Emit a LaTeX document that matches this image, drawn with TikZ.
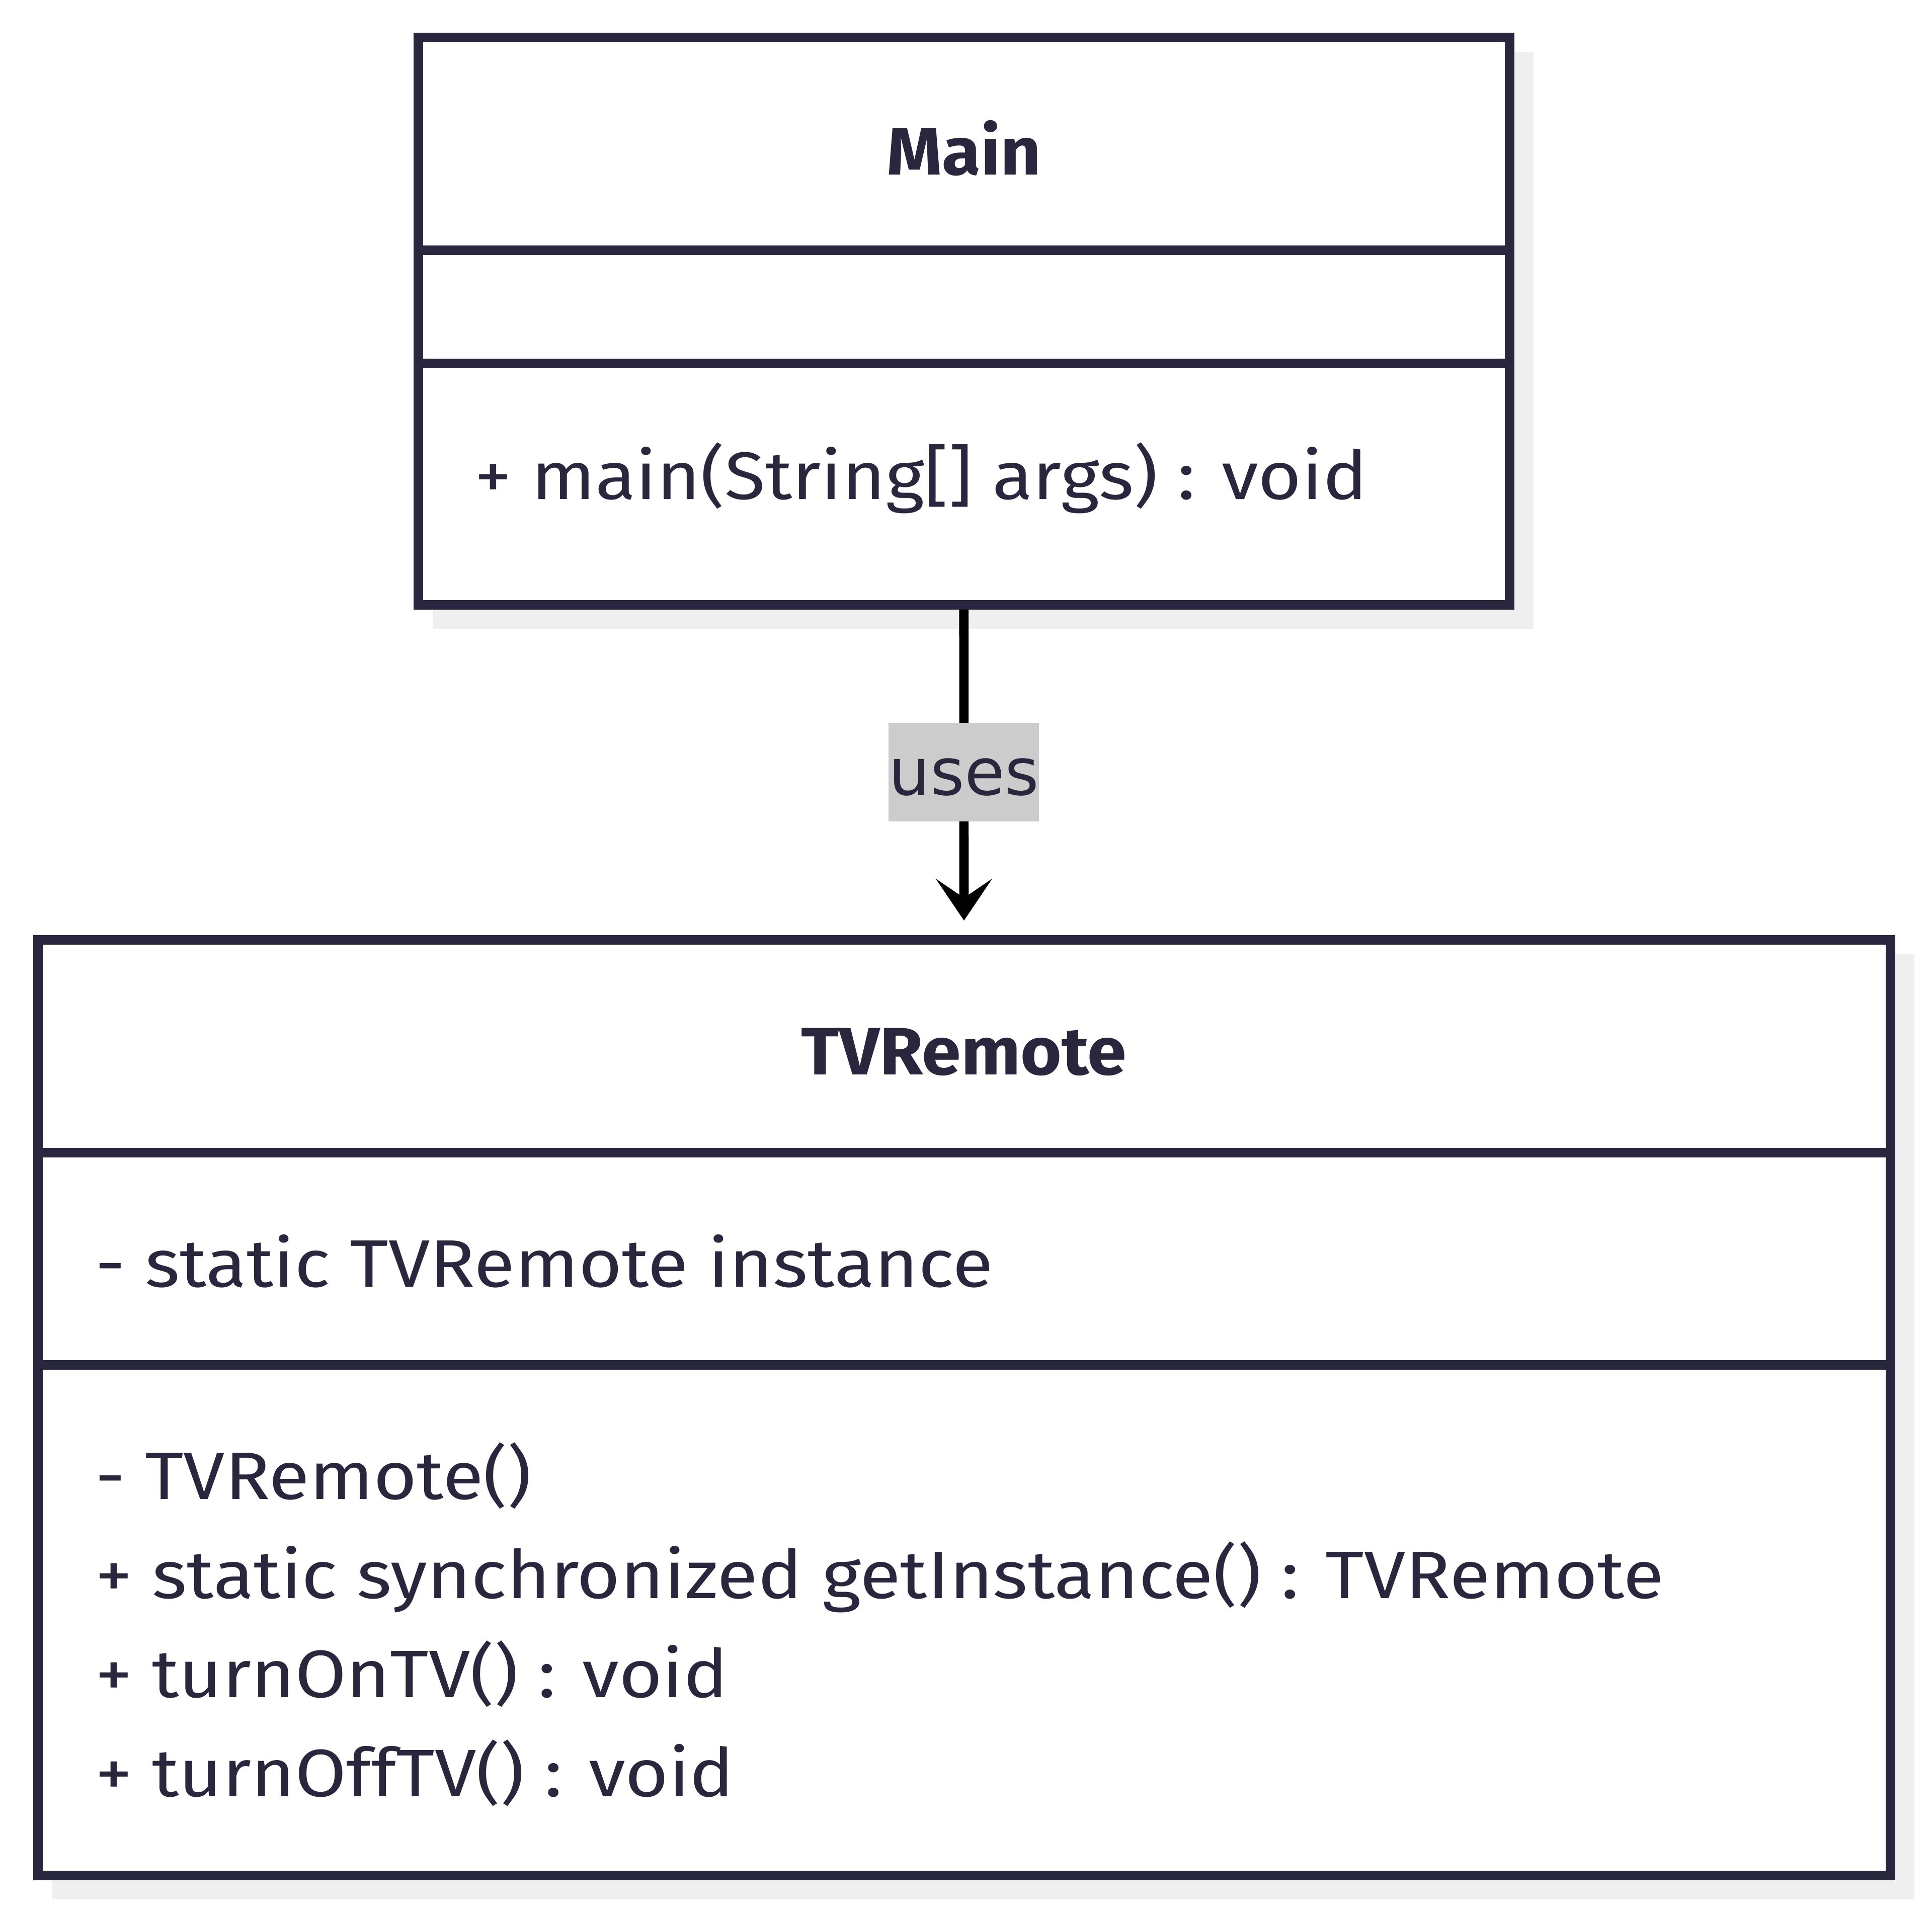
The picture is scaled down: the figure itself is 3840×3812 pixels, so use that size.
\documentclass[tikz,border=0pt]{standalone}
\usepackage{fontspec}
\setmainfont{Fira Sans}
\newfontfamily\bodyfont{Fira Sans}[FakeStretch=1.11]
\newfontfamily\titlefont{Fira Sans}[FakeStretch=1.05]
\newfontfamily\labelfont{DejaVu Sans}
\usetikzlibrary{arrows.meta,calc,backgrounds}
\definecolor{ink}{HTML}{28273D}
\definecolor{shadowc}{HTML}{EFEFEF}
\definecolor{labelbg}{HTML}{CCCCCC}
\tikzset{
  classbox/.style={draw=ink, line width=19pt, fill=white, inner sep=0pt, outer sep=0pt},
  divider/.style={draw=ink, line width=19pt},
  titletext/.style={anchor=base, inner sep=0pt, text=ink, font=\titlefont\fontsize{133.5}{160}\selectfont\bfseries},
  membertext/.style={anchor=base west, inner sep=0pt, text=ink, font=\bodyfont\fontsize{133.5}{160}\selectfont},
  conn/.style={draw=black, line width=18.6pt, -{Stealth[length=83pt,width=112pt,inset=38pt,line width=1pt]}},
  edgelabel/.style={fill=labelbg, text=ink, inner sep=0pt, minimum width=299pt, minimum height=196pt, text height=90pt, text depth=0pt, font=\labelfont\fontsize{130}{150}\selectfont}
}
\begin{document}
\begin{tikzpicture}[x=1pt,y=-1pt]
\useasboundingbox (0,0) rectangle (3840,3812);
% class boxes
\node[classbox, minimum width=2168.5pt, minimum height=1127.5pt] (main) at (1915.75,638.25) {};
\node[classbox, minimum width=3682pt, minimum height=1859.5pt] (tv) at (1916,2798.25) {};
\begin{scope}[on background layer]
  \fill[shadowc] ($(main.north west)+(28.5,28.5)$) rectangle ($(main.south east)+(47.5,47.5)$);
  \fill[shadowc] ($(tv.north west)+(28.5,28.5)$) rectangle ($(tv.south east)+(47.5,47.5)$);
\end{scope}
% dividers
\draw[divider] ($(main.north west)+(0,422.5)$) -- ($(main.north east)+(0,422.5)$);
\draw[divider] ($(main.north west)+(0,648)$) -- ($(main.north east)+(0,648)$);
\draw[divider] ($(tv.north west)+(0,422.5)$) -- ($(tv.north east)+(0,422.5)$);
\draw[divider] ($(tv.north west)+(0,844.5)$) -- ($(tv.north east)+(0,844.5)$);
% texts
\node[titletext] (mainTitle) at (1916,347) {Main};
\node[membertext] (mainM1) at (943,992) {+ main(String[] args) : void};
\node[titletext] (tvTitle) at (1916,2136) {TVRemote};
\node[membertext] (tvA1) at (189,2558) {- static TVRemote instance};
\node[membertext] (tvM1) at (189,2980) {- TVRemote()};
\node[membertext] (tvM2) at (189,3177) {+ static synchronized getInstance() : TVRemote};
\node[membertext] (tvM3) at (189,3374) {+ turnOnTV() : void};
\node[membertext] (tvM4) at (189,3571) {+ turnOffTV() : void};
% connector
\draw[conn, shorten <=9.5pt, shorten >=38.5pt] (main.south) -- node[edgelabel, pos=0.4996] (uses) {uses} (tv.north);
\end{tikzpicture}
\end{document}
